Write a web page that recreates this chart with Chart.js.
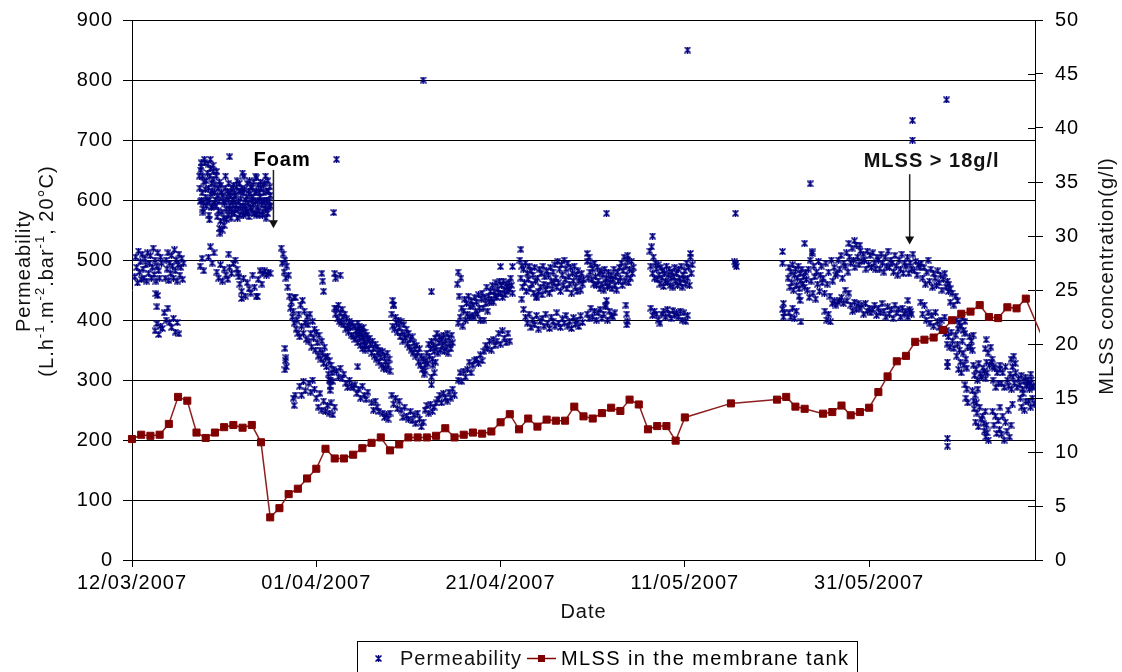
<!DOCTYPE html>
<html>
<head>
<meta charset="utf-8">
<script src="https://cdn.jsdelivr.net/npm/chart.js@4.4.1/dist/chart.umd.min.js"></script>
<style>
html, body { margin: 0; padding: 0; background: #fff; }
#chart { display: block; }
</style>
</head>
<body>
<canvas id="chart" width="1122" height="672"></canvas>
<script>
// x axis is counted in days from 12/03/2007
var dateTicks = [0, 20, 40, 60, 80];

// MLSS in the membrane tank (g/l)
var mlssDays = [0, 1, 2, 3, 4, 5, 6, 7, 8, 9, 10, 11, 12, 13, 14,
  15, 16, 17, 18, 19, 20, 21, 22, 23, 24, 25, 26, 27, 28, 29,
  30, 31, 32, 33, 34, 35, 36, 37, 38, 39, 40, 41, 42, 43, 44,
  45, 46, 47, 48, 49, 50, 51, 52, 53, 54, 55, 56, 57, 58, 59, 60,
  65, 70, 71, 72, 73,
  75, 76, 77, 78, 79, 80, 81, 82, 83, 84, 85, 86, 87, 88, 89, 90, 91, 92, 93, 94, 95, 96, 97,
  99.3];
var mlssValues = [11.2, 11.6, 11.5, 11.6, 12.6, 15.1, 14.75, 11.8, 11.3, 11.8, 12.3, 12.5, 12.25, 12.5, 10.9,
  3.95, 4.8, 6.1, 6.6, 7.55, 8.45, 10.3, 9.4, 9.4, 9.75, 10.35, 10.85, 11.35, 10.15, 10.7,
  11.35, 11.35, 11.35, 11.5, 12.2, 11.35, 11.6, 11.8, 11.7, 11.9, 12.75, 13.5, 12.1, 13.1, 12.35,
  13.0, 12.9, 12.9, 14.2, 13.3, 13.1, 13.6, 14.1, 13.8, 14.85, 14.4, 12.1, 12.4, 12.4, 11.05, 13.2,
  14.5, 14.85, 15.1, 14.2, 14.0,
  13.55, 13.7, 14.3, 13.4, 13.7, 14.1, 15.55, 17.0, 18.4, 18.9, 20.2, 20.4, 20.6, 21.3, 22.2, 22.8, 23.0, 23.6, 22.5, 22.4, 23.4, 23.3, 24.2,
  19.6];

// Permeability logger runs: [first day, days between readings, readings]
var permRunsA = [
  [0.3, 0.1, [472, 505, 488, 462, 515, 480, 497, 468, 510, 485, 470, 502, 492, 465, 512, 478, 495, 507, 470, 488, 520, 476, 500, 465, 490, 512, 482, 470, 505, 495]],
  [3.6, 0.1, [470, 500, 485, 512, 466, 495, 478, 508, 490, 470, 517, 482, 500, 465, 492, 510, 475, 488, 503, 468, 495]],
  [2.5, 0.2, [382, 394, 376, 390, 386]],
  [3.5, 0.2, [412, 400, 420, 396, 388, 403, 380, 396, 377]]
];

var permRunsB = [
  [7.3, 0.1, [640, 598, 655, 612, 585, 630, 662,
    605, 590, 645, 620, 600, 652, 588, 615, 635, 595,
    625, 590, 648, 608, 582, 630, 565, 612, 550, 598,
    558, 620, 585, 605, 575, 628, 590, 612, 580, 600,
    625, 578, 608, 592, 632, 585, 615, 575, 602, 620,
    590, 575, 618, 600, 585, 628, 595, 572, 610, 622,
    583, 605, 630, 578, 598, 615, 588, 625, 576, 605,
    620, 592, 580, 612, 628, 585, 600, 578, 615, 598,
    608]],
  [7.35, 0.1, [620, 650, 600, 640, 595, 668, 618,
    632, 598, 660, 575, 640, 610, 628, 590, 648, 612,
    600, 640, 572, 620, 598, 545, 625, 580, 608, 570,
    595, 640, 568, 615, 600, 585, 608, 570, 620, 590,
    600, 612, 585, 622, 570, 598, 628, 590, 615, 580,
    612, 640, 590, 578, 605, 580, 615, 632, 588, 600,
    620, 592, 578, 612, 640, 575, 600, 582, 612, 630,
    598, 575, 625, 600, 590, 570, 615, 632, 588, 622,
    590]],
  [7.4, 0.2, [490, 503, 482]],
  [8.3, 0.2, [505, 522, 495, 512]],
  [9.2, 0.2, [480, 470, 492, 465, 485, 475, 468, 488, 478, 494]],
  [11.2, 0.2, [500, 485, 472]],
  [11.5, 0.2, [478, 460, 448, 470, 440, 462, 452, 445]],
  [13.1, 0.2, [475, 455, 440, 468, 482, 460]],
  [14.2, 0.2, [478, 482, 475, 480, 478]]
];

var permRunsC = [
  [16.2, 0.1, [520, 495, 510, 480, 500, 470, 490, 455, 475,
    440, 420, 430, 405, 415, 395, 438, 385, 400, 378,
    410, 372, 425, 390, 433, 378, 415, 395, 368, 405,
    392, 365, 410, 378, 355, 398, 370, 385, 350, 380,
    362, 340, 375, 350, 335, 365, 345, 328, 355, 338,
    322, 340, 310, 332, 300, 325, 312, 298, 318]],
  [22.2, 0.1, [420, 402, 425, 398, 412, 395, 418, 405,
    392, 410, 385, 402, 390, 380, 398, 388, 375, 395,
    372, 390, 368, 382, 375, 362, 385, 370, 358, 378,
    352, 370, 358, 350]],
  [24.5, 0.1, [395, 380, 390, 378, 385,
    372, 388, 365, 380, 358, 375, 368, 352, 370, 360,
    345, 365, 352, 340, 360, 335, 355, 345, 330, 350,
    338, 325, 348, 320, 340, 330, 318, 345, 325, 335,
    315]],
  [28.2, 0.1, [410, 390, 425, 385, 405, 395, 380, 400,
    388, 372, 398, 380, 365, 392, 375, 370, 385, 360,
    378, 355, 368, 350, 372, 345, 362, 352, 340, 358,
    345, 330, 352, 325, 340, 318, 335, 310, 325]],
  [31.8, 0.1, [315, 332,
    345, 328, 360, 340, 352, 365, 335, 358, 348, 370,
    355, 378, 345, 362, 372, 350, 368, 358, 375, 348,
    365, 355, 378, 345, 370, 360, 352, 375, 362]],
  [32.5, 0.15, [305, 325, 312, 330]],
  [35.3, 0.1, [460, 395, 440, 405, 470, 420, 390,
    415, 435, 400, 428, 410, 440, 405, 422, 432, 408,
    425, 405, 438, 415, 430, 410, 442, 420, 400, 435,
    445, 420, 400, 438, 428, 455, 415, 440, 430, 448,
    435, 458, 430, 448, 440, 462, 438, 452, 445, 465,
    445, 458, 438, 465, 450, 442, 460, 455, 448, 462,
    452, 470, 458, 445]],
  [18.2, 0.2, [290, 275, 298, 282,
    null, 295, 280, 300, 285,
    270, 255, 278, 250, 265, 248,
    258, 245, 262, 242, 255,
    315, 305, 320, 302, 310,
    295, 288, 300, 290, 287,
    292, 278, 285, 270, 290, 275, 268, 280,
    null, 262,
    250, 265, 255, 248,
    null, 245, 238, 242, 235, 245,
    275, 260, 270, 252, 265,
    250, 238, 255, 240, 235,
    248, 232, 242, 228, 245,
    235, 222, 230,
    250, 258, 245,
    260, 248, 255, 262,
    268, 275, 262, 278, 270, 265,
    280, 270, 285, 275,
    null, 300,
    312, 298, 315, 305,
    318, 330, 312, 325, 333,
    335, 328, 342, 332, 348, 358,
    352, 365, 350, 368, 358,
    365, 378, 360, 382,
    370, 362, 378, 365]],
  [17.5, 0.1, [270, 258, 275]]
];

var permRunsD = [
  [42.1, 0.1, [500, 470, 490, 455, 485, 462, 495, 448, 478,
    468, 490, 452, 482, 460, 475, 445, 488, 465, 440,
    470, 448, 485, 455, 478, 442, 490, 460, 472, 450,
    482, 458, 475, 445, 488, 465, 452, 480, 462, 492,
    470, 455, 498, 462, 485, 448, 492, 475, 458, 500,
    468, 485, 452, 495, 472, 460, 488, 445, 478, 465,
    490, 455, 475, 448, 482, 465, 470, 450, 478, 460,
    468]],
  [49.4, 0.1, [498, 470, 505, 480, 492, 468,
    485, 460, 495, 472, 458, 488, 465, 478, 452, 482,
    460, 475, 450, 485, 462, 470, 455, 480, 458, 468,
    475, 452, 468, 485, 458, 472, 450, 480, 465, 488,
    470, 495, 458, 482, 505, 465, 490, 475, 500, 462,
    485, 470, 498, 478, 488]],
  [56.2, 0.1, [515, 490, 522, 478, 505, 470, 495, 485,
    468, 492, 475, 460, 488, 470, 482, 456, 478, 465,
    490, 462, 475, 485, 458, 470, 480, 455, 472, 488,
    465, 478, 458, 485, 470, 462, 490, 455, 475, 468,
    482, 460, 495, 470, 488, 458, 505, 478, 492]],
  [42.3, 0.2, [435, 418, 405, 395, 410, 388, 400, 392, 408, 385, 398, 403, 390, 410, 395, 386, 405,
    398, 390, 412, 395, 388, 402, 395, 408, 390, 398, 386, 404, 393, 400, 389, 407, 396]],
  [49.4, 0.2, [410, 402, 420, 405, 415, 400, 412, 418, 403, 410, 422, 400, 415, 408, 405, 412]],
  [56.3, 0.2, [420, 408, 415, 410,
    400, 395, 410,
    415, 405, 418, 410, 403, 416, 408, 412, 405, 415,
    400, 412, 398, 408]]
];

var permRunsE = [
  [71.2, 0.1, [470, 488, 455, 480, 462, 492, 450, 475, 485, 458, 470, 490, 452, 478, 465, 485, 460, 472, 455, 480, 468]],
  [71.3, 0.2, [412, 405, 420, 403, 415]],
  [73.3, 0.1, [450, 485, 438, 500, 465, 511, 445, 490, 472, 435, 480, 460, 498, 448, 475, 490, 462]],
  [75.0, 0.15, [470, 445, 495, 460, 480, 440, 500, 465, 488, 475,
    478, 500, 485, 508, 470, 495, 490, 512, 480, 505,
    495, 520, 500, 488, 525, 505, 492, 515, 498, 510,
    500, 485, 515, 492, 508, 488, 512, 495, 485, 505,
    500, 485, 510, 495, 480, 505, 490, 515, 488, 500,
    495, 480, 508, 490, 475, 500, 485, 510, 478, 495,
    490, 505, 478, 495, 485, 510, 482, 498, 475, 492,
    488]],
  [85.65, 0.15, [495, 470, 488, 460, 480, 500, 465, 485, 455, 478,
    470, 458, 482, 462, 475, 450, 468, 478, 455, 465,
    460, 452]],
  [88.6, 0.2, [448, 430, 445, 425, 440, 432]],
  [75.2, 0.2, [415, 400, 410, 397,
    428, 432, 425, 430, 433,
    438, 428, 450, 432, 445,
    425, 415, 430, 418, 428, 420,
    425, 410, 428, 415, 420, 412,
    418, 425, 408, 420, 412, 428,
    415, 405, 422, 410, 418, 403,
    425, 412, 418, 405, 420, 410,
    415, 405, 418, 410]],
  [85.6, 0.2, [430, 410, 425, 400,
    412, 395, 408, 390, 413, 398, 388,
    400, 385, 405, 383]],
  [88.3, 0.15, [378, 360, 372, 355, 380, 365, 353]],
  [89.5, 0.15, [400, 385, 395, 390, 405, 383, 398]],
  [89.4, 0.1, [375, 340, 360, 318, 350, 330, 312, 365, 345, 325, 378, 335, 320, 355]],
  [90.4, 0.1, [292, 270, 285, 262]],
  [90.9, 0.1, [372, 355, 365, 350, 375]],
  [91.2, 0.15, [282, 265, 275, 262, 285]],
  [91.3, 0.15, [325, 308, 318, 300, 328, 310, 305, 320, 315, 302, 312]],
  [91.4, 0.15, [252, 230, 245, 222, 255, 235, 240, 228, 248, 225]],
  [92.6, 0.15, [352, 330, 345, 325, 355, 335, 322]],
  [92.5, 0.15, [215, 205, 212, 200]],
  [93.3, 0.15, [330, 300, 320, 288, 312, 295, 325]],
  [93.4, 0.15, [248, 225, 240, 211, 232, 218]],
  [94.2, 0.15, [255, 210, 240, 200, 230, 215, 250, 205, 225, 260]],
  [94.2, 0.15, [318, 295, 312, 288, 322]],
  [95.0, 0.15, [300, 290, 310, 285, 305, 295, 312, 288, 302, 292, 308, 285, 298, 305, 290, 300, 295, 310, 288]],
  [95.4, 0.15, [335, 322, 340, 328]],
  [96.4, 0.15, [270, 255, 278, 250, 265]],
  [97.2, 0.1, [295, 265, 285, 255, 300, 270, 290, 260]]
];

// isolated readings [day, value]
var permSingles = [
  [2.6, 444], [2.7, 422], [2.8, 441],
  [7.5, 662], [8.5, 668], [8.8, 658], [10.6, 672], [12.0, 645], [13.5, 637], [14.5, 640],
  [7.7, 580], [8.4, 567], [9.5, 553],
  [10.5, 510], [11.9, 436], [13.6, 439],
  [16.6, 353], [16.7, 337], [16.65, 333], [16.75, 322], [16.6, 317], [17.6, 438],
  [20.6, 478], [20.7, 465], [20.8, 448], [21.9, 579], [22.2, 668], [22.0, 478], [22.1, 470], [22.6, 475],
  [22.0, 420], [22.1, 410], [21.4, 300], [21.5, 290], [21.5, 283],
  [24.5, 322], [28.3, 433], [28.4, 425], [31.6, 800], [32.5, 447], [32.5, 292],
  [35.4, 480], [40.0, 489], [41.3, 489],
  [42.2, 518], [43.9, 437],
  [49.4, 511], [51.5, 578], [51.5, 433], [51.4, 425], [53.8, 508],
  [53.6, 425], [53.7, 410], [53.75, 398], [53.7, 392],
  [56.5, 540], [60.3, 850], [60.6, 511],
  [65.5, 578], [65.4, 497], [65.5, 492], [65.6, 489], [65.5, 494],
  [70.6, 514], [70.6, 495], [70.7, 428], [70.6, 418], [70.7, 405], [70.8, 412],
  [72.4, 440], [72.5, 433], [72.6, 397],
  [73.0, 528], [73.6, 627], [73.8, 514],
  [78.4, 532], [77.8, 528], [79.0, 525], [84.2, 433], [84.5, 414],
  [84.7, 733], [84.7, 700], [88.4, 767],
  [88.5, 330], [88.5, 322], [88.5, 203], [88.5, 190], [92.7, 367]
];

var NAVY = '#000080';
var MAROON = '#800000';
var FONT = "'Liberation Sans', Arial, sans-serif";
var SPACING = '1px';

Chart.defaults.font.family = FONT;
Chart.defaults.font.size = 20;
Chart.defaults.color = '#000';

function pad2(n) { return (n < 10 ? '0' : '') + n; }
function dayLabel(d) {
  var t = new Date(2007, 2, 12 + d);
  return pad2(t.getDate()) + '/' + pad2(t.getMonth() + 1) + '/' + t.getFullYear();
}

function expandRuns(runs, out) {
  runs.forEach(function(run) {
    run[2].forEach(function(v, i) {
      if (v !== null) out.push({ x: run[0] + i * run[1], y: v });
    });
  });
  return out;
}

var permPoints = [];
[permRunsA, permRunsB, permRunsC, permRunsD, permRunsE].forEach(function(r) { expandRuns(r, permPoints); });
permSingles.forEach(function(p) { permPoints.push({ x: p[0], y: p[1] }); });

var mlssPoints = mlssDays.map(function(d, i) { return { x: d, y: mlssValues[i] }; });

// asterisk marker of the permeability series (an x with a vertical stroke)
function makeStar() {
  var c = document.createElement('canvas');
  c.width = 7; c.height = 7;
  var g = c.getContext('2d');
  g.strokeStyle = NAVY;
  g.lineWidth = 1.5;
  g.beginPath();
  g.moveTo(0.5, 0.5); g.lineTo(6.5, 6.5);
  g.moveTo(6.5, 0.5); g.lineTo(0.5, 6.5);
  g.moveTo(3.5, 0); g.lineTo(3.5, 7);
  g.stroke();
  return c;
}
var star = makeStar();

function arrow(ctx, x, y0, y1) {
  ctx.strokeStyle = '#222';
  ctx.fillStyle = '#111';
  ctx.lineWidth = 1.5;
  ctx.beginPath();
  ctx.moveTo(x, y0);
  ctx.lineTo(x, y1 - 6);
  ctx.stroke();
  ctx.beginPath();
  ctx.moveTo(x - 4.5, y1 - 8);
  ctx.lineTo(x + 4.5, y1 - 8);
  ctx.lineTo(x, y1);
  ctx.closePath();
  ctx.fill();
}

// keep the plot top fixed; labels above it may overhang into the margin
function noVerticalPadding(s) {
  s.paddingTop = 0;
  s.paddingBottom = 0;
}

var decorations = {
  id: 'decorations',
  beforeLayout: function(chart) { chart.ctx.letterSpacing = SPACING; },
  beforeDraw: function(chart) { chart.ctx.letterSpacing = SPACING; },
  afterDatasetsDraw: function(chart) {
    var ctx = chart.ctx;
    var xs = chart.scales.x, ys = chart.scales.y, y2 = chart.scales.y1;
    var area = chart.chartArea;
    ctx.save();

    // right axis ticks also cross into the plot
    ctx.strokeStyle = '#000';
    ctx.lineWidth = 1;
    ctx.beginPath();
    y2.ticks.forEach(function(t) {
      var py = Math.round(y2.getPixelForValue(t.value)) + 0.5;
      ctx.moveTo(area.right - 7, py);
      ctx.lineTo(area.right, py);
    });
    ctx.stroke();

    // annotations
    ctx.font = 'bold 20px ' + FONT;
    ctx.fillStyle = '#000';
    ctx.textBaseline = 'alphabetic';
    ctx.textAlign = 'left';
    var fx = xs.getPixelForValue(15.35);
    ctx.fillText('Foam', fx - 20, 166);
    arrow(ctx, fx, ys.getPixelForValue(650), ys.getPixelForValue(553));
    var mx = xs.getPixelForValue(84.4);
    ctx.fillText('MLSS > 18g/l', mx - 46, 167);
    arrow(ctx, mx, ys.getPixelForValue(643), ys.getPixelForValue(526));

    // axis titles
    ctx.font = '20px ' + FONT;
    ctx.textAlign = 'center';
    ctx.textBaseline = 'middle';
    ctx.fillText('Date', (area.left + area.right) / 2, 612);

    ctx.save();
    ctx.translate(1107, 276);
    ctx.rotate(-Math.PI / 2);
    ctx.fillText('MLSS concentration(g/l)', 0, 0);
    ctx.restore();

    ctx.save();
    ctx.translate(24, 271);
    ctx.rotate(-Math.PI / 2);
    ctx.fillText('Permeability', 0, 0);
    // unit line with superscripts
    var parts = [['(L.h', 0], ['-1', 1], ['.m', 0], ['-2', 1], ['.bar', 0], ['-1', 1], [', 20\u00B0C)', 0]];
    var total = 0;
    parts.forEach(function(p) {
      ctx.font = (p[1] ? '13px ' : '20px ') + FONT;
      p.push(ctx.measureText(p[0]).width);
      total += p[2];
    });
    var px = -total / 2;
    ctx.textAlign = 'left';
    parts.forEach(function(p) {
      ctx.font = (p[1] ? '13px ' : '20px ') + FONT;
      ctx.fillText(p[0], px, p[1] ? 16 : 23);
      px += p[2];
    });
    ctx.restore();

    // legend
    ctx.strokeStyle = '#000';
    ctx.lineWidth = 1;
    ctx.strokeRect(357.5, 641.5, 500, 40);
    ctx.drawImage(star, 375, 655);
    ctx.font = '20px ' + FONT;
    ctx.textAlign = 'left';
    ctx.textBaseline = 'middle';
    ctx.fillText('Permeability', 400, 659);
    ctx.strokeStyle = MAROON;
    ctx.lineWidth = 1.5;
    ctx.beginPath();
    ctx.moveTo(527, 658.5);
    ctx.lineTo(556, 658.5);
    ctx.stroke();
    ctx.fillStyle = MAROON;
    ctx.fillRect(538, 655, 7, 7);
    ctx.fillStyle = '#000';
    ctx.letterSpacing = '1.4px';
    ctx.fillText('MLSS in the membrane tank', 561, 659);

    ctx.restore();
  }
};

new Chart(document.getElementById('chart'), {
  type: 'scatter',
  data: {
    datasets: [{
      label: 'Permeability',
      data: permPoints,
      yAxisID: 'y',
      order: 2,
      pointStyle: star,
      pointRadius: 3.5
    }, {
      label: 'MLSS in the membrane tank',
      data: mlssPoints,
      yAxisID: 'y1',
      order: 1,
      showLine: true,
      borderColor: '#8e1f1f',
      borderWidth: 1.5,
      pointStyle: 'rect',
      pointRadius: 5,
      pointBackgroundColor: MAROON,
      pointBorderColor: MAROON,
      pointBorderWidth: 1,
      clip: { left: 6, top: 0, right: 5, bottom: 0 }
    }]
  },
  options: {
    responsive: false,
    animation: false,
    devicePixelRatio: 1,
    events: [],
    layout: { padding: { top: 20, left: 0, right: 0, bottom: 0 } },
    plugins: { legend: { display: false }, tooltip: { enabled: false } },
    scales: {
      x: {
        type: 'linear',
        position: 'bottom',
        min: 0,
        max: 98,
        afterBuildTicks: function(s) { s.ticks = dateTicks.map(function(v) { return { value: v }; }); },
        afterFit: function(s) { s.height = 112; },
        border: { color: '#000', width: 1 },
        grid: { drawOnChartArea: false, color: '#000', tickLength: 7 },
        ticks: { padding: 4, maxRotation: 0, autoSkip: false, callback: function(v) { return dayLabel(v); } }
      },
      y: {
        position: 'left',
        min: 0,
        max: 900,
        afterFit: function(s) { s.width = 132; noVerticalPadding(s); },
        border: { color: '#000', width: 1 },
        grid: { color: '#000', tickLength: 9 },
        ticks: { stepSize: 100, padding: 10 }
      },
      y1: {
        position: 'right',
        min: 0,
        max: 50,
        afterFit: function(s) { s.width = 87; noVerticalPadding(s); },
        border: { color: '#000', width: 1 },
        grid: { drawOnChartArea: false, color: '#000', tickLength: 8 },
        ticks: { stepSize: 5, padding: 12 }
      }
    }
  },
  plugins: [decorations]
});
</script>
</body>
</html>
